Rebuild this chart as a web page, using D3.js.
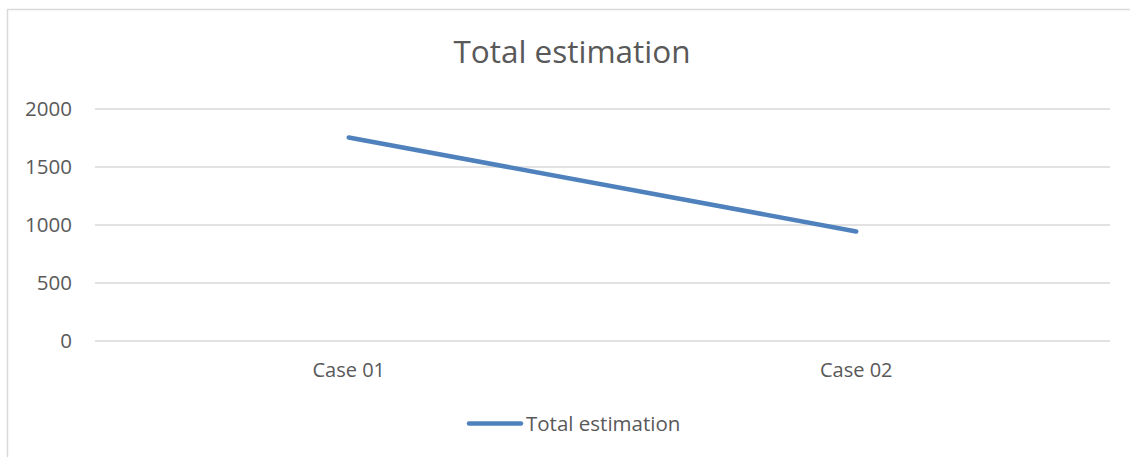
<!DOCTYPE html>
<html><head><meta charset="utf-8">
<script src="https://cdn.jsdelivr.net/npm/d3@7"></script>
<style>body{margin:0;background:#fff;}svg{display:block;}</style>
</head><body>
<svg id="c" width="1130" height="457"></svg>
<script>
const categories = ["Case 01", "Case 02"];
const seriesName = "Total estimation";
const values = [1750, 940];
const yTicks = [0, 500, 1000, 1500, 2000];

(function () {
const svg = d3.select("#c");
const font = "'Open Sans', 'Liberation Sans', sans-serif";
const textColor = "#595959";

svg.append("rect").attr("x", 7.5).attr("y", 9.5).attr("width", 1200).attr("height", 600)
  .attr("fill", "#fff").attr("stroke", "#d9d9d9").attr("stroke-width", 1.5);

const pLeft = 95, pRight = 1110, pTop = 108.5, pBottom = 340.5;
const x = d3.scaleBand().domain(categories).range([pLeft, pRight]);
const y = d3.scaleLinear().domain([0, 2000]).range([pBottom, pTop]);

svg.append("text").attr("x", 572).attr("y", 63).attr("text-anchor", "middle")
  .attr("font-family", font).attr("font-size", 31.5).attr("fill", textColor).text(seriesName);

const yAxis = svg.append("g").attr("transform", `translate(${pLeft},0)`)
  .call(d3.axisLeft(y).tickValues(yTicks).tickFormat(d3.format("d"))
    .tickSize(-(pRight - pLeft)).tickPadding(23));
yAxis.select(".domain").remove();
yAxis.selectAll(".tick line").attr("stroke", "#d9d9d9").attr("stroke-width", 1.3);
yAxis.selectAll(".tick text").attr("font-family", font).attr("font-size", 20.5)
  .attr("fill", textColor).attr("dy", "0.34em");

const xAxis = svg.append("g").attr("transform", `translate(0,${pBottom})`)
  .call(d3.axisBottom(x).tickSize(0).tickPadding(22));
xAxis.select(".domain").remove();
xAxis.selectAll(".tick text").attr("font-family", font).attr("font-size", 20)
  .attr("fill", textColor);

const line = d3.line().x((d, i) => x(categories[i]) + x.bandwidth() / 2).y(d => y(d));
svg.append("path").datum(values).attr("d", line).attr("fill", "none")
  .attr("stroke", "#4f81bd").attr("stroke-width", 4.5).attr("stroke-linecap", "round");

const lg = svg.append("g");
lg.append("line").attr("x1", 469).attr("x2", 521).attr("y1", 423.5).attr("y2", 423.5)
  .attr("stroke", "#4f81bd").attr("stroke-width", 4.5).attr("stroke-linecap", "round");
lg.append("text").attr("x", 526).attr("y", 431).attr("font-family", font).attr("font-size", 20.5)
  .attr("fill", textColor).text(seriesName);
})();
</script>
</body></html>
